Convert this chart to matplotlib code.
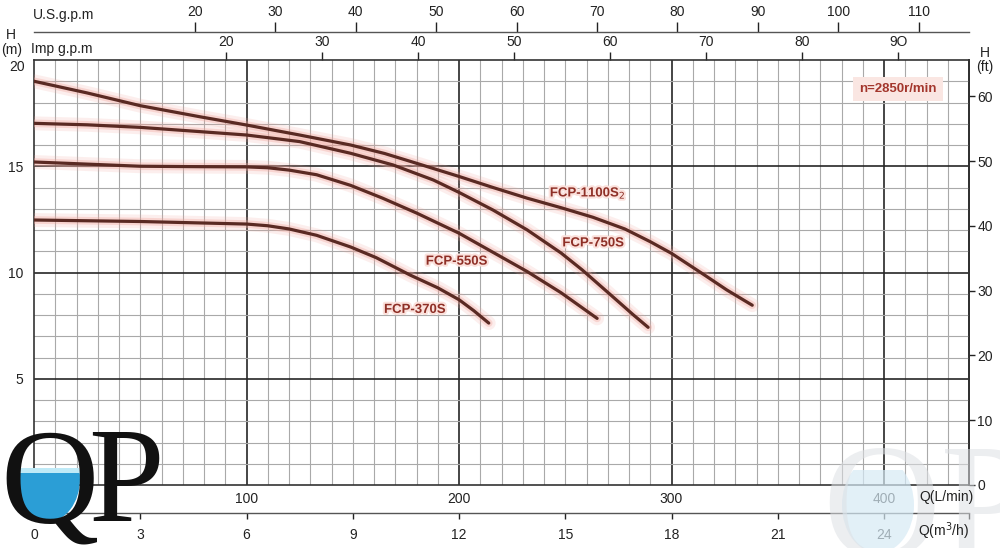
import numpy as np
import matplotlib
matplotlib.use("Agg")
import matplotlib.pyplot as plt
import matplotlib.patheffects as pe
from matplotlib.patches import Ellipse, Rectangle

# ── estilo ───────────────────────────────────────────────────────────────────
plt.rcParams.update({
    "font.family": ["Liberation Sans", "DejaVu Sans"],
    "font.size": 10,
    "axes.linewidth": 1.2,
    "text.color": "#222222",
    "xtick.color": "#222222",
    "ytick.color": "#222222",
})

# ── datos (Q en L/min, H en m) ──────────────────────────────────────────────
Q_1100 = [0, 25, 50, 78, 100, 125, 149, 165, 180, 200, 216, 232, 248, 263, 278, 290, 300, 316, 326, 338]
H_1100 = [19.0, 18.45, 17.85, 17.33, 16.94, 16.47, 16.0, 15.6, 15.14, 14.52, 14.0, 13.5, 13.05, 12.6, 12.05, 11.45, 10.9, 9.85, 9.18, 8.46]

Q_750 = [0, 25, 50, 78, 100, 125, 149, 169, 188, 200, 216, 232, 248, 258, 271, 282, 289]
H_750 = [17.02, 16.95, 16.83, 16.63, 16.47, 16.16, 15.61, 15.06, 14.35, 13.77, 12.94, 12.01, 10.92, 10.12, 8.98, 8.01, 7.42]

Q_550 = [0, 25, 50, 78, 100, 110, 120, 133, 149, 164, 180, 200, 216, 232, 248, 265]
H_550 = [15.2, 15.1, 15.0, 14.98, 14.97, 14.93, 14.82, 14.6, 14.1, 13.5, 12.8, 11.85, 10.95, 10.05, 9.05, 7.84]

Q_370 = [0, 50, 100, 110, 120, 133, 149, 161, 177, 190, 200, 207, 214]
H_370 = [12.47, 12.4, 12.28, 12.2, 12.05, 11.75, 11.2, 10.7, 9.88, 9.28, 8.72, 8.2, 7.62]

CURVE_NAMES = ["FCP-1100S$_2$", "FCP-750S", "FCP-550S", "FCP-370S"]

Q_TICKS = [100, 200, 300, 400]
H_TICKS = [5, 10, 15]
FT_TICKS = [0, 10, 20, 30, 40, 50, 60]
M3H_TICKS = [0, 3, 6, 9, 12, 15, 18, 21, 24]
USGPM_TICKS = [20, 30, 40, 50, 60, 70, 80, 90, 100, 110]
IMPGPM_TICKS = [20, 30, 40, 50, 60, 70, 80, 90]
IMPGPM_LABELS = ["20", "30", "40", "50", "60", "70", "80", "9O"]

SPEED = "n=2850r/min"

# conversiones
L_PER_USGAL = 3.785
L_PER_IMPGAL = 4.52
M_PER_FT = 0.3048

CURVE = "#5a2a23"
LABEL = "#8e2f26"
GLOW = "#f2a69c"

W, H = 1000, 548


def main():
    fig = plt.figure(figsize=(W / 100, H / 100), dpi=100)
    ax = fig.add_axes([34 / W, 1 - 485 / H, (969 - 34) / W, 425 / H])
    ax.set_xlim(0, 440)
    ax.set_ylim(0, 20)

    # rejilla: fina cada 10 L/min y 1 m, gruesa cada 100 L/min y 5 m
    ax.set_xticks(Q_TICKS)
    ax.set_xticks([v for v in range(0, 441, 10) if v % 100], minor=True)
    ax.set_yticks(H_TICKS)
    ax.set_yticks([v for v in range(0, 21) if v % 5], minor=True)
    ax.grid(which="minor", color="#a9a9a9", lw=0.8)
    ax.grid(which="major", color="#262626", lw=1.2)
    ax.set_axisbelow(True)
    ax.tick_params(which="both", length=0)
    ax.tick_params(axis="x", pad=5)
    ax.tick_params(axis="y", pad=8)
    for s in ax.spines.values():
        s.set_color("#333333")

    # curvas con halo rosado
    series = [(Q_1100, H_1100), (Q_750, H_750), (Q_550, H_550), (Q_370, H_370)]
    for q, h in series:
        ax.plot(q, h, color=GLOW, lw=10, alpha=0.18, solid_capstyle="round",
                solid_joinstyle="round", zorder=3)
        ax.plot(q, h, color=GLOW, lw=5.5, alpha=0.35, solid_capstyle="round",
                solid_joinstyle="round", zorder=3)
        ax.plot(q, h, color=CURVE, lw=2.3, solid_capstyle="round",
                solid_joinstyle="round", zorder=4)

    label_pos = [(260.7, 13.74), (263.2, 11.37), (198.9, 10.51), (179.3, 8.24)]
    for name, (x, y) in zip(CURVE_NAMES, label_pos):
        ax.text(x, y, name, color=LABEL, fontsize=9.5, fontweight="bold",
                ha="center", va="center", zorder=5,
                path_effects=[pe.withStroke(linewidth=3, foreground="#fbe1dc")])

    # eje derecho en pies
    ft = ax.secondary_yaxis("right", functions=(lambda m: m / M_PER_FT, lambda f: f * M_PER_FT))
    ft.set_yticks(FT_TICKS)
    ft.tick_params(direction="out", length=4, width=1, pad=2)

    # eje inferior en m3/h
    m3h = ax.secondary_xaxis(-28 / 425, functions=(lambda q: q * 0.06, lambda m: m / 0.06))
    m3h.set_xticks(M3H_TICKS + [26.4], labels=[str(v) for v in M3H_TICKS] + [""])
    m3h.tick_params(direction="out", length=4.5, width=1, pad=6)
    m3h.spines["bottom"].set_color("#555555")
    m3h.spines["bottom"].set_linewidth(1.0)

    # ejes superiores en galones por minuto
    us = ax.secondary_xaxis(453 / 425, functions=(lambda q: q / L_PER_USGAL, lambda g: g * L_PER_USGAL))
    us.set_xticks(USGPM_TICKS)
    us.tick_params(direction="out", length=7, width=1, pad=2)
    us.spines["top"].set_color("#555555")
    us.spines["top"].set_linewidth(1.0)

    imp = ax.secondary_xaxis("top", functions=(lambda q: q / L_PER_IMPGAL, lambda g: g * L_PER_IMPGAL))
    imp.set_xticks(IMPGPM_TICKS, labels=IMPGPM_LABELS)
    imp.tick_params(direction="out", length=6, width=1, pad=2)
    imp.spines["top"].set_visible(False)

    # capa superpuesta en pixeles para rotulos y logotipos
    ov = fig.add_axes([0, 0, 1, 1], zorder=10)
    ov.set_xlim(0, W)
    ov.set_ylim(H, 0)
    ov.axis("off")
    ov.patch.set_alpha(0)

    ov.text(33, 15, "U.S.g.p.m", ha="left", va="center", fontsize=10)
    ov.text(31, 49, "Imp g.p.m", ha="left", va="center", fontsize=10)
    ov.text(11, 35, "H", ha="center", va="center", fontsize=10)
    ov.text(12, 50, "(m)", ha="center", va="center", fontsize=10)
    ov.text(25, 67, "20", ha="right", va="center", fontsize=10)
    ov.text(985, 53, "H", ha="center", va="center", fontsize=10)
    ov.text(985, 67, "(ft)", ha="center", va="center", fontsize=10)
    ov.text(946, 497, "Q(L/min)", ha="center", va="center", fontsize=10, zorder=4)
    ov.text(944, 531, "Q(m$^3$/h)", ha="center", va="center", fontsize=10, zorder=4)
    ov.text(898, 89, SPEED, ha="center", va="center", fontsize=9.5, fontweight="bold",
            color="#a3362c",
            bbox=dict(boxstyle="square,pad=0.45", fc="#fae6e2", ec="none"))

    # marca de agua QP (abajo a la derecha)
    wm_water = Ellipse((878, 505), 72, 96, fc="#d6eaf5", ec="none", alpha=0.7, zorder=0.4)
    ov.add_patch(wm_water)
    wm_water.set_clip_path(Rectangle((800, 470), 200, 90, transform=ov.transData))
    ov.text(822, 556, "QP", family="Liberation Serif", fontsize=118,
            color="#dde0e4", alpha=0.55, ha="left", va="baseline", zorder=0.5)

    # logotipo QP (abajo a la izquierda)
    water = Ellipse((47, 479), 66, 86, fc="#2b9ed6", ec="none")
    ov.add_patch(water)
    water.set_clip_path(Rectangle((0, 468), 100, 80, transform=ov.transData))
    foam = Rectangle((10, 468), 74, 5, fc="#bfeaf7", ec="none")
    ov.add_patch(foam)
    foam.set_clip_path(Ellipse((47, 479), 66, 86, transform=ov.transData))
    ov.text(0, 523, "Q", family="Liberation Serif", fontsize=98,
            color="#111111", ha="left", va="baseline")
    ov.text(88, 521, "P", family="Liberation Serif", fontsize=98,
            color="#111111", ha="left", va="baseline")

    fig.savefig("out.png", dpi=100)
    plt.close(fig)


if __name__ == "__main__":
    main()
